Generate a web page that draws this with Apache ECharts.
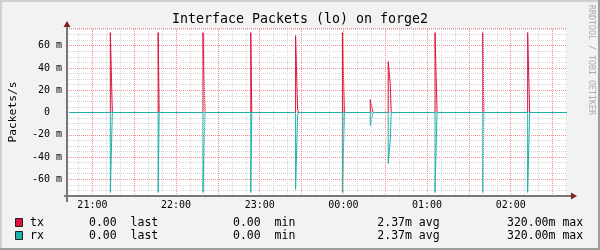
<!DOCTYPE html>
<html><head><meta charset="utf-8">
<script src="https://cdn.jsdelivr.net/npm/echarts@6/dist/echarts.min.js"></script>
<style>html,body{margin:0;padding:0;background:#f2f2f2}#c{width:600px;height:250px}</style>
</head><body><div id="c"></div>
<script>
// ---- data (time = minutes after 20:00, values in milli-packets/s) ----
const xRange = [43.214, 400.357];
const hourTicks = [60, 120, 180, 240, 300, 360];
const hourLabels = ['21:00', '22:00', '23:00', '00:00', '01:00', '02:00'];
const gridStepMin = 10;
const majorStepMin = 30;

// step changes: value holds from this time until the next time
const txTimes  = [43.214, 72.86, 74.29, 107.14, 107.86, 139.29, 140.71, 173.57, 174.29, 205.71, 207.14, 207.86, 239.29, 240.71, 259.29, 260.71, 261.43, 272.14, 273.57, 274.29, 305.71, 307.14, 340.00, 340.71, 372.14, 373.57, 400.357];
const txValues = [0, 71.8, 0, 71.8, 0, 71.8, 0, 71.8, 0, 69.0, 2.7, 0, 71.8, 0, 11.6, 2.7, 0, 45.7, 26.0, 0, 71.8, 0, 71.8, 0, 71.8, 0, 0];
const rxTimes  = [43.214, 72.86, 74.29, 107.14, 107.86, 139.29, 140.71, 173.57, 174.29, 205.71, 207.14, 207.86, 239.29, 240.71, 259.29, 260.71, 261.43, 272.14, 273.57, 274.29, 305.71, 307.14, 340.00, 340.71, 372.14, 373.57, 400.357];
const rxValues = [0, 71.8, 0, 71.8, 0, 71.8, 0, 71.8, 0, 69.0, 2.7, 0, 71.8, 0, 11.6, 2.7, 0, 45.7, 25.5, 0, 71.8, 0, 71.8, 0, 71.8, 0, 0];

const yLabelStep = 20;
const legendNames = ['tx', 'rx'];
const legendLast = ['0.00', '0.00'];
const legendMin = ['0.00', '0.00'];
const legendAvg = ['2.37m', '2.37m'];
const legendMax = ['320.00m', '320.00m'];

const TX_COLOR = '#dc143c', RX_COLOR = '#20b2aa';
const GRID_C = '#d6d6d6', MGRID_C = '#f08c8c';
const MONO = '"DejaVu Sans Mono", monospace';

// expand step changes into corner points (value holds until next change)
function stepPoints(times, values, sign) {
  const out = [];
  times.forEach((t, i) => {
    if (i > 0) out.push([t, sign * values[i - 1]]);
    out.push([t, sign * values[i]]);
  });
  return out;
}
const txData = stepPoints(txTimes, txValues, 1);
const rxData = stepPoints(rxTimes, rxValues, -1);

const vGrid = [];
for (let t = Math.ceil(xRange[0] / gridStepMin) * gridStepMin; t <= xRange[1]; t += gridStepMin) {
  const hi = hourTicks.indexOf(t);
  vGrid.push({
    xAxis: t,
    lineStyle: { color: t % majorStepMin === 0 ? MGRID_C : GRID_C },
    label: hi >= 0 ? { show: true, formatter: hourLabels[hi] } : { show: false }
  });
}

const chart = echarts.init(document.getElementById('c'), null, { renderer: 'canvas' });

const graphic = [
  { type: 'line', shape: { x1: 0, y1: 1, x2: 600, y2: 1 }, style: { stroke: '#cfcfcf', lineWidth: 2 } },
  { type: 'line', shape: { x1: 1, y1: 0, x2: 1, y2: 250 }, style: { stroke: '#cfcfcf', lineWidth: 2 } },
  { type: 'line', shape: { x1: 0, y1: 249, x2: 600, y2: 249 }, style: { stroke: '#9e9e9e', lineWidth: 2 } },
  { type: 'line', shape: { x1: 599, y1: 0, x2: 599, y2: 250 }, style: { stroke: '#9e9e9e', lineWidth: 2 } },
  { type: 'line', shape: { x1: 67, y1: 24, x2: 67, y2: 202 }, style: { stroke: '#777', lineWidth: 2 }, z: 10 },
  { type: 'line', shape: { x1: 64, y1: 196, x2: 572, y2: 196 }, style: { stroke: '#777', lineWidth: 2 }, z: 10 },
  { type: 'polygon', shape: { points: [[63.5, 27], [70.5, 27], [67, 21]] }, style: { fill: '#801f1f' }, z: 10 },
  { type: 'polygon', shape: { points: [[571, 192.5], [571, 199.5], [577, 196]] }, style: { fill: '#801f1f' }, z: 10 },
  { type: 'text', x: 591, y: 60, rotation: -Math.PI / 2,
    style: { text: 'RRDTOOL / TOBI OETIKER', font: '8.3px ' + MONO, fill: '#acacac', align: 'center', verticalAlign: 'middle' } }
];
const rowY = [222.7, 235.7];
const boxY = [218.5, 231.5];
const colors = [TX_COLOR, RX_COLOR];
legendNames.forEach((n, i) => {
  graphic.push({ type: 'rect', shape: { x: 15.5, y: boxY[i], width: 7, height: 8 },
    style: { fill: colors[i], stroke: '#222', lineWidth: 1 } });
  const items = [
    [30, n], [89, legendLast[i] + '  last'], [233, legendMin[i] + '  min'],
    [377.3, legendAvg[i] + ' avg'], [507, legendMax[i] + ' max']
  ];
  items.forEach(([x, s]) => graphic.push({ type: 'text', x: x, y: rowY[i],
    style: { text: s, font: '11.5px ' + MONO, fill: '#000', align: 'left', verticalAlign: 'middle' } }));
});

chart.setOption({
  animation: false,
  backgroundColor: '#f2f2f2',
  title: {
    text: 'Interface Packets (lo) on forge2', left: 'center', top: 12.5, padding: 0,
    textStyle: { fontFamily: MONO, fontSize: 13.3, fontWeight: 'normal', color: '#000', lineHeight: 15 }
  },
  grid: { left: 67, top: 28, width: 500, height: 168, show: true, backgroundColor: '#ffffff', borderWidth: 0 },
  xAxis: {
    type: 'value', min: xRange[0], max: xRange[1],
    axisLine: { show: false, onZero: false },
    axisTick: { show: false }, axisLabel: { show: false }, splitLine: { show: false }
  },
  yAxis: {
    type: 'value', min: -75, max: 75.9, interval: 5,
    axisLine: { show: false },
    axisTick: { show: false },
    axisLabel: {
      fontFamily: MONO, fontSize: 10, color: '#000', margin: 7,
      formatter: v => {
        const r = Math.round(v);
        if (Math.abs(v - r) > 1e-6 || r % yLabelStep !== 0) return '';
        return r === 0 ? '0  ' : r + ' m';
      }
    },
    splitLine: { show: true, lineStyle: { color: [GRID_C, GRID_C, GRID_C, MGRID_C], type: [1, 1], width: 1 } },
    name: 'Packets/s', nameLocation: 'middle', nameRotate: 90, nameGap: 50,
    nameTextStyle: { fontFamily: MONO, fontSize: 11.3, color: '#000' }
  },
  series: [
    {
      type: 'line', data: [], z: 1, silent: true,
      markLine: {
        silent: true, symbol: ['none', 'none'], animation: false,
        lineStyle: { type: [1, 1], width: 1 },
        label: { show: false, position: 'start', distance: 4, color: '#000', fontFamily: MONO, fontSize: 10 },
        emphasis: { disabled: true },
        data: vGrid
      }
    },
    {
      name: 'tx', type: 'line', data: txData, showSymbol: false, z: 3,
      color: TX_COLOR, lineStyle: { color: TX_COLOR, width: 1 }
    },
    {
      name: 'rx', type: 'line', data: rxData, showSymbol: false, z: 4,
      color: RX_COLOR, lineStyle: { color: RX_COLOR, width: 1 }
    }
  ],
  graphic: graphic
});
</script></body></html>
